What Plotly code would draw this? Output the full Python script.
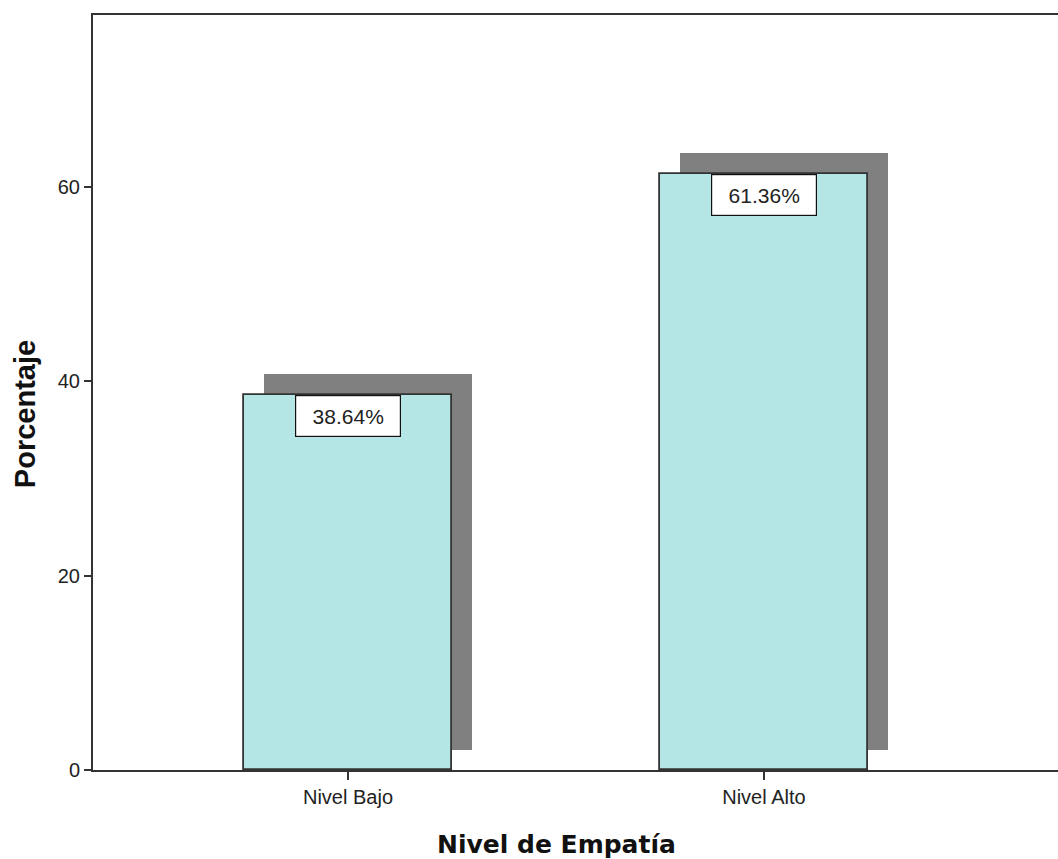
import plotly.graph_objects as go

categories = ["Nivel Bajo", "Nivel Alto"]
values = [38.64, 61.36]
labels = ["38.64%", "61.36%"]
y_ticks = [0, 20, 40, 60]

shadow_shift = 2.1   # shadow raised (in % units)
bar_w = 0.5
x_pos = [0, 1]

fig = go.Figure()
# shadow
fig.add_trace(go.Bar(
    x=x_pos, y=values, base=[shadow_shift] * len(values),
    width=bar_w, offset=-bar_w / 2 + 0.048,
    marker=dict(color="#808080", line=dict(width=0)),
    hoverinfo="skip", showlegend=False))
# main bars
fig.add_trace(go.Bar(
    x=x_pos, y=values, width=bar_w, offset=-bar_w / 2,
    marker=dict(color="#B4E6E6", line=dict(color="#333333", width=1.8)),
    showlegend=False))

for xv, v, t in zip(x_pos, values, labels):
    fig.add_annotation(x=xv, y=v, text=t, showarrow=False,
                       xanchor="center", yanchor="top",
                       font=dict(family="Liberation Sans, Arial", size=21, color="#222"),
                       bgcolor="white", bordercolor="#111", borderwidth=1.2,
                       width=102, height=38, borderpad=1)

fig.add_annotation(xref="paper", yref="paper", x=-0.071, y=0.472, text="<b>Porcentaje</b>",
                   textangle=-90, showarrow=False, xanchor="center", yanchor="middle",
                   font=dict(family="Liberation Sans, Arial", size=29, color="#111"))
fig.add_annotation(xref="paper", yref="paper", x=0.48, y=-0.099, text="<b>Nivel de Empatía</b>",
                   showarrow=False, xanchor="center", yanchor="middle",
                   font=dict(family="DejaVu Sans", size=25, color="#111"))

fig.update_layout(
    width=1058, height=859,
    margin=dict(l=93, r=0, t=15, b=89),
    plot_bgcolor="white", paper_bgcolor="white",
    barmode="overlay",
    bargap=0,
    font=dict(family="Liberation Sans, Arial", size=20, color="#222"),
    xaxis=dict(range=[-0.613, 1.707], tickvals=x_pos, ticktext=categories,
               showgrid=False, zeroline=False, showline=True, linecolor="#333",
               linewidth=2, mirror=True, ticks="outside", ticklen=8, tickwidth=2,
               tickcolor="#333", tickfont=dict(size=20)),
    yaxis=dict(range=[0, 77.7], tickvals=y_ticks, showgrid=False, zeroline=False,
               showline=True, linecolor="#333", linewidth=2, ticks="outside",
               ticklen=7, tickwidth=2, tickcolor="#333", tickfont=dict(size=20)),
)

fig.write_html("out.html")
